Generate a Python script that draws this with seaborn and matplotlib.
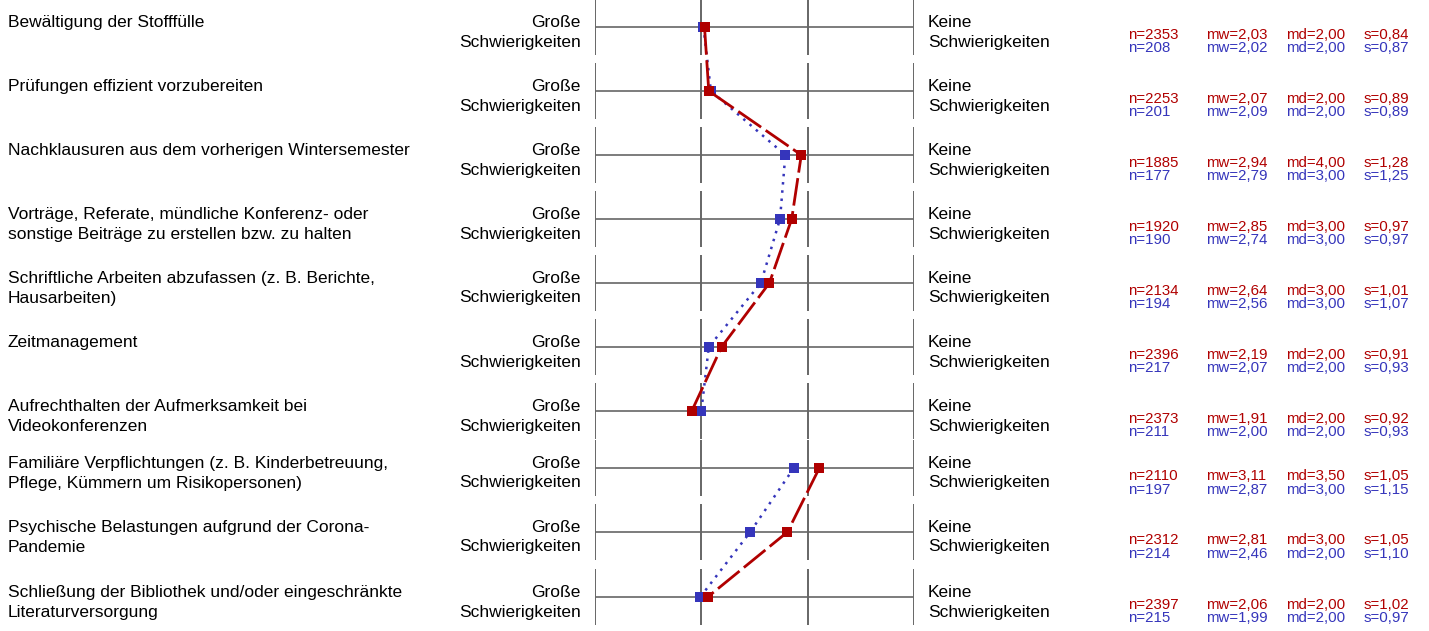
import numpy as np
import pandas as pd
import seaborn as sns
import matplotlib
matplotlib.use("Agg")
import matplotlib.pyplot as plt

# ---------------- data ----------------
items = [
    "Bewältigung der Stofffülle",
    "Prüfungen effizient vorzubereiten",
    "Nachklausuren aus dem vorherigen Wintersemester",
    "Vorträge, Referate, mündliche Konferenz- oder\nsonstige Beiträge zu erstellen bzw. zu halten",
    "Schriftliche Arbeiten abzufassen (z. B. Berichte,\nHausarbeiten)",
    "Zeitmanagement",
    "Aufrechthalten der Aufmerksamkeit bei\nVideokonferenzen",
    "Familiäre Verpflichtungen (z. B. Kinderbetreuung,\nPflege, Kümmern um Risikopersonen)",
    "Psychische Belastungen aufgrund der Corona-\nPandemie",
    "Schließung der Bibliothek und/oder eingeschränkte\nLiteraturversorgung",
]
# the profile line is broken between item blocks
item_block = [1, 1, 1, 1, 1, 1, 1, 2, 2, 2]
left_pole = "Große\nSchwierigkeiten"
right_pole = "Keine\nSchwierigkeiten"
scale_ticks = [1, 2, 3, 4]

red_n = [2353, 2253, 1885, 1920, 2134, 2396, 2373, 2110, 2312, 2397]
red_mw = [2.03, 2.07, 2.94, 2.85, 2.64, 2.19, 1.91, 3.11, 2.81, 2.06]
red_md = [2.00, 2.00, 4.00, 3.00, 3.00, 2.00, 2.00, 3.50, 3.00, 2.00]
red_s = [0.84, 0.89, 1.28, 0.97, 1.01, 0.91, 0.92, 1.05, 1.05, 1.02]

blue_n = [208, 201, 177, 190, 194, 217, 211, 197, 214, 215]
blue_mw = [2.02, 2.09, 2.79, 2.74, 2.56, 2.07, 2.00, 2.87, 2.46, 1.99]
blue_md = [2.00, 2.00, 3.00, 3.00, 3.00, 2.00, 2.00, 3.00, 2.00, 2.00]
blue_s = [0.87, 0.89, 1.25, 0.97, 1.07, 0.93, 0.93, 1.15, 1.10, 0.97]

# ---------------- layout (pixels) ----------------
W, H = 1429, 631
row_y = [27, 91, 155, 219, 283, 347, 411, 468, 532, 597]
RED = "#B00000"
BLUE = "#3535BB"
GRID = "#666666"

sns.set_theme(style="white")
plt.rcParams["font.family"] = ["Liberation Sans", "DejaVu Sans"]

fig = plt.figure(figsize=(W / 100, H / 100), dpi=100)
ax = fig.add_axes([595 / W, 0, (914 - 595) / W, 1])

# grid per row
for y in row_y:
    ax.hlines(y, scale_ticks[0], scale_ticks[-1], color=GRID, lw=1.2, zorder=1)
    ax.vlines(scale_ticks, y - 28, y + 28, color=GRID, lw=1.4, zorder=1)

blue_df = pd.DataFrame({"mw": blue_mw, "y": row_y, "block": item_block})
red_df = pd.DataFrame({"mw": red_mw, "y": row_y, "block": item_block})

sns.lineplot(data=blue_df, x="mw", y="y", units="block", orient="y", sort=False,
             estimator=None, ax=ax, color=BLUE, lw=1.8,
             linestyle=(0, (1, 2.3)), marker="s", markersize=7,
             markeredgewidth=0, zorder=3, legend=False)
sns.lineplot(data=red_df, x="mw", y="y", units="block", orient="y", sort=False,
             estimator=None, ax=ax, color=RED, lw=2.0,
             linestyle=(0, (10, 2)), marker="s", markersize=7,
             markeredgewidth=0, zorder=4, legend=False)
ax.set_xlim(scale_ticks[0], scale_ticks[-1])
ax.set_ylim(H, 0)
ax.axis("off")


def ftxt(x, y, s, **kw):
    fig.text(x / W, 1 - y / H, s, **kw)


def fmt(v):
    return f"{v:.2f}".replace(".", ",")


LFS = 12.5
SFS = 10.8
for i, y in enumerate(row_y):
    for j, line in enumerate(items[i].split("\n")):
        ftxt(8, y + j * 20, line, ha="left", va="baseline", fontsize=LFS, color="black")
    for j, line in enumerate(left_pole.split("\n")):
        ftxt(581, y + j * 19.5, line, ha="right", va="baseline", fontsize=LFS, color="black")
    for j, line in enumerate(right_pole.split("\n")):
        ftxt(928, y + j * 19.5, line, ha="left", va="baseline", fontsize=LFS, color="black")
    for yy, col, n, mw, md, s in [
        (y + 12, RED, red_n[i], red_mw[i], red_md[i], red_s[i]),
        (y + 25.5, BLUE, blue_n[i], blue_mw[i], blue_md[i], blue_s[i]),
    ]:
        ftxt(1128, yy, f"n={n}", ha="left", va="baseline", fontsize=SFS, color=col)
        ftxt(1206, yy, f"mw={fmt(mw)}", ha="left", va="baseline", fontsize=SFS, color=col)
        ftxt(1286, yy, f"md={fmt(md)}", ha="left", va="baseline", fontsize=SFS, color=col)
        ftxt(1364, yy, f"s={fmt(s)}", ha="left", va="baseline", fontsize=SFS, color=col)

fig.savefig("out.png", dpi=100)
